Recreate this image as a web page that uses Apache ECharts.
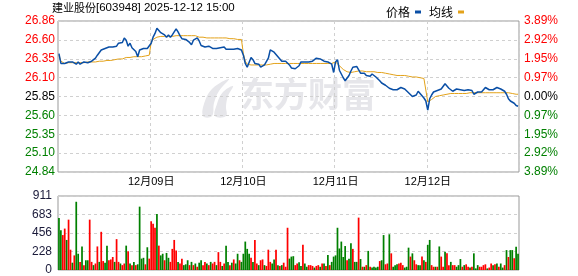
<!DOCTYPE html>
<html><head><meta charset="utf-8">
<script src="https://cdn.jsdelivr.net/npm/echarts@6/dist/echarts.min.js"></script>
<style>html,body{margin:0;padding:0;background:#fff}#c{width:578px;height:276px}</style>
</head><body><div id="c"></div>
<script>
// ---------- data ----------
const stockName = '建业股份';
const stockInfo = '[603948] 2025-12-12 15:00';
const days = ['12月08日','12月09日','12月10日','12月11日','12月12日'];
const prevClose = 25.85;
const pctRange = 3.89;
const priceTickLabels = ['24.84','25.10','25.35','25.60','25.85','26.10','26.35','26.60','26.86'];
const pctTickLabels = ['3.89%','2.92%','1.95%','0.97%','0.00%','0.97%','1.95%','2.92%','3.89%'];
const volTickLabels = ['0','228','456','683','911'];
const volMax = 911;
const slotsPerDay = 48;

const price1 = [26.42,26.29,26.28,26.29,26.27,26.31,26.32,26.31,26.29,26.28,26.31,26.28,26.29,26.31,26.29,26.30,26.31,26.32,26.31,26.36,26.40,26.42,26.47,26.48,26.49,26.50,26.51,26.50,26.51,26.52,26.52,26.56,26.54,26.57,26.63,26.60,26.52,26.56,26.50,26.48,26.45,26.38,26.47,26.45,26.49,26.47,26.49,26.48];
const price2 = [26.56,26.64,26.69,26.76,26.73,26.70,26.72,26.67,26.64,26.67,26.64,26.67,26.71,26.75,26.71,26.66,26.62,26.60,26.61,26.59,26.57,26.54,26.60,26.59,26.63,26.59,26.53,26.54,26.51,26.53,26.52,26.50,26.49,26.50,26.49,26.51,26.50,26.52,26.51,26.48,26.46,26.48,26.49,26.48,26.49,26.49,26.49,26.47];
const price3 = [26.40,26.29,26.24,26.23,26.37,26.34,26.29,26.29,26.28,26.24,26.26,26.27,26.29,26.36,26.47,26.49,26.44,26.41,26.38,26.37,26.32,26.30,26.32,26.31,26.27,26.23,26.24,26.22,26.24,26.26,26.31,26.29,26.31,26.29,26.31,26.31,26.32,26.34,26.36,26.35,26.35,26.33,26.32,26.31,26.31,26.29,26.28,26.17];
const price4 = [26.31,26.34,26.20,26.15,26.10,26.06,26.07,26.13,26.19,26.24,26.26,26.25,26.27,26.16,26.15,26.16,26.13,26.13,26.12,26.15,26.17,26.11,26.09,26.06,26.03,26.02,26.00,25.98,25.96,25.94,25.94,25.92,25.94,25.96,25.97,25.95,25.95,25.93,25.90,25.88,25.85,25.83,25.87,25.92,25.90,25.86,25.83,25.79];
const price5 = [25.67,25.82,25.87,25.91,25.92,25.93,25.92,25.95,25.97,26.02,26.00,25.96,25.94,25.92,25.92,25.95,25.93,25.94,25.94,25.93,25.94,25.94,25.93,25.93,25.88,25.90,25.91,25.89,25.91,25.93,25.97,25.96,25.94,25.93,25.94,25.95,25.97,25.96,25.95,25.94,25.92,25.88,25.82,25.79,25.77,25.76,25.73,25.72];

const avg1 = [26.40,26.32,26.30,26.29,26.29,26.30,26.30,26.30,26.30,26.30,26.30,26.30,26.30,26.30,26.31,26.31,26.31,26.31,26.31,26.31,26.32,26.32,26.32,26.32,26.33,26.33,26.33,26.33,26.34,26.34,26.35,26.35,26.35,26.35,26.36,26.37,26.37,26.37,26.38,26.38,26.38,26.38,26.38,26.38,26.38,26.39,26.40,26.40];
const avg2 = [26.57,26.61,26.63,26.64,26.65,26.65,26.65,26.65,26.65,26.65,26.65,26.65,26.66,26.66,26.66,26.66,26.66,26.66,26.66,26.66,26.66,26.66,26.66,26.66,26.65,26.64,26.64,26.64,26.63,26.63,26.63,26.63,26.63,26.63,26.63,26.63,26.63,26.63,26.63,26.63,26.63,26.62,26.62,26.62,26.61,26.61,26.61,26.61];
const avg3 = [26.42,26.32,26.28,26.26,26.27,26.27,26.27,26.27,26.27,26.27,26.27,26.27,26.27,26.27,26.28,26.28,26.29,26.29,26.29,26.29,26.29,26.29,26.29,26.29,26.29,26.29,26.29,26.29,26.29,26.29,26.29,26.29,26.29,26.29,26.29,26.29,26.29,26.29,26.29,26.29,26.29,26.29,26.29,26.29,26.29,26.29,26.29,26.29];
const avg4 = [26.31,26.29,26.26,26.24,26.21,26.19,26.18,26.17,26.17,26.18,26.18,26.19,26.19,26.19,26.19,26.19,26.18,26.18,26.18,26.18,26.18,26.17,26.17,26.17,26.17,26.16,26.16,26.15,26.15,26.14,26.14,26.14,26.13,26.13,26.13,26.13,26.13,26.12,26.12,26.12,26.11,26.11,26.11,26.10,26.10,26.10,26.09,26.09];
const avg5 = [25.78,25.80,25.81,25.83,25.85,25.85,25.86,25.87,25.87,25.88,25.88,25.88,25.89,25.89,25.89,25.89,25.89,25.89,25.89,25.89,25.89,25.90,25.90,25.90,25.90,25.90,25.90,25.90,25.90,25.90,25.90,25.90,25.90,25.90,25.90,25.90,25.90,25.90,25.90,25.90,25.90,25.90,25.90,25.89,25.89,25.88,25.88,25.88];

const vol1 = [640,490,430,510,370,620,250,90,180,840,200,100,290,60,120,120,620,100,60,80,290,100,470,110,90,300,120,130,160,100,380,100,80,60,80,300,230,80,60,100,60,70,780,140,150,70,280,140];
const vol2 = [600,570,520,690,300,180,200,120,210,150,100,260,370,240,100,80,140,60,70,120,60,100,60,80,40,90,120,60,100,80,60,100,80,100,60,220,100,50,80,300,100,60,90,130,80,200,120,100];
const vol3 = [200,350,260,200,150,100,370,80,60,120,130,60,50,250,100,80,130,250,60,50,60,90,40,520,140,165,170,60,80,95,50,310,80,40,60,60,50,30,50,60,40,80,80,50,185,60,100,165];
const vol4 = [180,520,265,350,160,295,120,140,330,260,100,100,645,135,40,40,60,235,40,30,40,30,40,110,120,430,70,80,440,205,40,60,70,80,90,60,30,40,275,165,205,120,70,60,60,165,120,100];
const vol5 = [310,370,60,40,40,40,290,165,40,225,205,60,100,60,60,40,60,135,40,60,70,40,30,40,205,20,60,40,40,60,70,20,30,80,60,70,80,40,80,30,60,245,160,245,245,145,285,200];

// r = up (red), g = down (green)
const dir1 = 'ggrrgrrgrggrgrggrrgrrgrrggrrrgrrgrrgrgrgrggggrgr';
const dir2 = 'rrrgrggrggrrrrgrrgggrgrgrggrrgrgrrgrrgrggrgrggrg';
const dir3 = 'ggggrgrrgrrgrrrggrgrgrrrgggrrggrggrrrgrrgrgrgrgg';
const dir4 = 'ggggggrggrggrgrgrgrggggrggrrgrgggrrrgggrgrrggrgr';
const dir5 = 'ggrrgrgrrgrrgrrgggrgrrgrgggrrrrgrrgrgrggrgrggrgg';

// ---------- build ----------
const prices = [].concat(price1, price2, price3, price4, price5);
const avgs = [].concat(avg1, avg2, avg3, avg4, avg5);
const vols = [].concat(vol1, vol2, vol3, vol4, vol5);
const dirs = dir1 + dir2 + dir3 + dir4 + dir5;
const cats = [];
days.forEach(d => { for (let i = 0; i < slotsPerDay; i++) cats.push(d + '#' + i); });

const pMin = prevClose * (1 - pctRange / 100);
const pMax = prevClose * (1 + pctRange / 100);
const pStep = (pMax - pMin) / 8;
const priceTickValues = priceTickLabels.map((_, k) => pMin + k * pStep);
const pctStep = pctRange / 4;
const volStep = volMax / 4;

const RED = '#ff0000', GREEN = '#008000', BLACK = '#000000';
const lvlColor = k => (k > 4 ? RED : (k < 4 ? GREEN : BLACK));
const priceIdx = v => Math.round((Number(v) - pMin) / pStep);
const pctIdx = v => Math.round((Number(v) + pctRange) / pctStep);
const FONT = "'Liberation Sans', Arial, 'Noto Sans CJK SC', sans-serif";
const dash = { color: '#d0d0d0', type: [3, 3], width: 1 };
const isDayEdge = idx => idx > 0 && idx % slotsPerDay === 0;
const WM = '#e6e6ea';

const chart = echarts.init(document.getElementById('c'), null, { renderer: 'canvas' });
chart.setOption({
  animation: false,
  textStyle: { fontFamily: FONT },
  legend: {
    data: ['价格', '均线'], top: 1, right: 109, align: 'right', icon: 'rect',
    itemWidth: 6, itemHeight: 3, itemGap: 8, selectedMode: false,
    textStyle: { fontSize: 12, color: '#000', fontFamily: "'Noto Sans CJK SC', sans-serif" }
  },
  graphic: [
    {
      type: 'text', left: 52, top: 2, z: 10,
      style: {
        text: '{a|' + stockName + '}{b|' + stockInfo + '}',
        rich: {
          a: { fontSize: 11, fontFamily: "'Noto Sans CJK SC', sans-serif", fill: '#000' },
          b: { fontSize: 11.5, fontFamily: "'Liberation Sans', Arial, sans-serif", fill: '#000' }
        }
      }
    },
    {
      type: 'polygon', z: 0, silent: true,
      shape: { points: [[203,116],[205,101],[213,88],[229,79],[219,91],[214,103],[212,116]], smooth: 0.4 },
      style: { fill: WM }
    },
    {
      type: 'polygon', z: 0, silent: true,
      shape: { points: [[215,116],[217,104],[223,92],[233,86],[228,96],[226,106],[226,116]], smooth: 0.4 },
      style: { fill: WM }
    },
    {
      type: 'text', left: 240, top: 77, z: 0, silent: true,
      style: { text: '东方财富', fontSize: 34, fontWeight: 'bold', fontFamily: "'Noto Sans CJK SC', sans-serif", fill: WM }
    }
  ],
  grid: [
    { left: 58, top: 21, width: 461, height: 151, show: true, borderColor: '#999', borderWidth: 1 },
    { left: 58, top: 196, width: 461, height: 74, show: true, borderColor: '#999', borderWidth: 1 }
  ],
  xAxis: [
    {
      type: 'category', gridIndex: 0, data: cats, boundaryGap: true,
      axisLine: { show: false }, axisTick: { show: false },
      splitLine: { show: true, interval: isDayEdge, lineStyle: dash },
      axisLabel: {
        show: true, interval: isDayEdge, margin: 4, fontSize: 11, color: '#000',
        fontFamily: "'Liberation Sans', 'Noto Sans CJK SC', sans-serif",
        formatter: (v, idx) => days[Math.round(idx / slotsPerDay)]
      }
    },
    {
      type: 'category', gridIndex: 1, data: cats, boundaryGap: true,
      axisLine: { show: false }, axisTick: { show: false }, axisLabel: { show: false },
      splitLine: { show: false }
    }
  ],
  yAxis: [
    {
      type: 'value', gridIndex: 0, position: 'left', min: pMin, max: pMax,
      axisLine: { show: false }, axisTick: { show: false, customValues: priceTickValues },
      splitLine: { show: false },
      axisLabel: {
        customValues: priceTickValues, margin: 3, fontSize: 12,
        formatter: v => priceTickLabels[priceIdx(v)],
        color: v => lvlColor(priceIdx(v))
      }
    },
    {
      type: 'value', gridIndex: 0, position: 'right', min: -pctRange, max: pctRange, interval: pctStep,
      axisLine: { show: false }, axisTick: { show: false },
      splitLine: { show: true, lineStyle: dash },
      axisLabel: {
        margin: 5, fontSize: 12,
        formatter: v => pctTickLabels[pctIdx(v)],
        color: v => lvlColor(pctIdx(v))
      }
    },
    {
      type: 'value', gridIndex: 1, position: 'left', min: 0, max: volMax, interval: volStep,
      axisLine: { show: false }, axisTick: { show: false },
      splitLine: { show: true, lineStyle: dash },
      axisLabel: {
        margin: 6, fontSize: 12, color: '#1a1a3a',
        formatter: v => volTickLabels[Math.round(Number(v) / volStep)]
      }
    }
  ],
  series: [
    {
      name: '价格', type: 'line', xAxisIndex: 0, yAxisIndex: 0, data: prices,
      showSymbol: false, symbol: 'none', z: 4,
      lineStyle: { color: '#0a4fa6', width: 1.5 }, itemStyle: { color: '#0a4fa6' }
    },
    {
      name: '均线', type: 'line', xAxisIndex: 0, yAxisIndex: 0, data: avgs,
      showSymbol: false, symbol: 'none', z: 3,
      lineStyle: { color: '#e3a21a', width: 1 }, itemStyle: { color: '#e3a21a' }
    },
    {
      name: '成交量', type: 'bar', xAxisIndex: 1, yAxisIndex: 2, barCategoryGap: '10%',
      data: vols.map((v, i) => ({ value: v, itemStyle: { color: dirs[i] === 'r' ? RED : GREEN } }))
    }
  ]
});
</script>
</body></html>
